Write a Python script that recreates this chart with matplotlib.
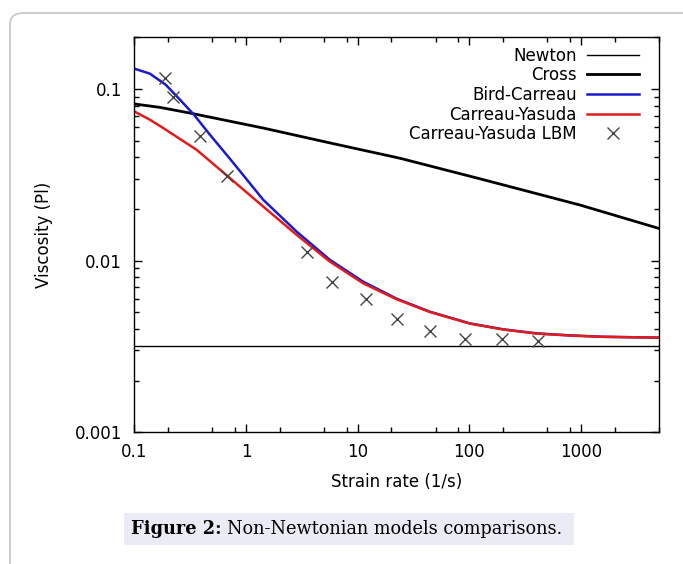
import matplotlib
matplotlib.use("Agg")
import matplotlib.pyplot as plt
from matplotlib.patches import FancyBboxPatch, Rectangle
from matplotlib.ticker import LogLocator, FixedLocator, FixedFormatter, NullFormatter

# values
newton_level = 0.0032

cross_rate = [0.1, 0.17, 0.315, 1.43, 5.65, 23.9, 124, 977, 5000]
cross_visc = [0.0818, 0.0781, 0.0724, 0.0592, 0.0485, 0.0395, 0.0300, 0.0211, 0.0154]

bird_rate = [0.1, 0.138, 0.191, 0.2565, 0.3423, 0.476, 0.719, 1.429, 2.843, 5.65, 11.22,
             22.4, 44.4, 101, 201, 400, 796, 1580, 5000]
bird_visc = [0.1314, 0.1228, 0.1059, 0.0866, 0.0708, 0.0541, 0.0392, 0.0226, 0.01476, 0.0101,
             0.00754, 0.0060, 0.00504, 0.00431, 0.00398, 0.00377, 0.00367, 0.0036, 0.00356]

yasuda_rate = [0.1, 0.138, 0.1818, 0.362, 0.680, 1.429, 2.843, 5.65, 11.22, 22.4,
               44.4, 101, 201, 400, 796, 1580, 5000]
yasuda_visc = [0.074, 0.0662, 0.0592, 0.0442, 0.0312, 0.02065, 0.01413, 0.00987, 0.00738,
               0.00595, 0.00502, 0.0043, 0.00397, 0.00376, 0.00366, 0.0036, 0.00356]

lbm_rate = [0.19, 0.22, 0.39, 0.68, 3.5, 5.9, 11.8, 22.3, 44.4, 91, 197, 409]
lbm_visc = [0.1159, 0.0893, 0.0529, 0.0312, 0.01119, 0.00754, 0.00594, 0.00455, 0.00391,
            0.00348, 0.00348, 0.00341]

x_ticks = [0.1, 1, 10, 100, 1000]
x_labels = ["0.1", "1", "10", "100", "1000"]
y_ticks = [0.001, 0.01, 0.1]
y_labels = ["0.001", "0.01", "0.1"]

plt.rcParams['font.family'] = ['DejaVu Sans']
fig = plt.figure(figsize=(6.83, 5.64), dpi=100)

# page frame and caption box
frame = FancyBboxPatch((10 / 683, -0.2), 1.2, 1.2 - 13 / 564,
                       boxstyle="round,pad=0,rounding_size=0.02",
                       transform=fig.transFigure, facecolor="none",
                       edgecolor="#c8c8c8", linewidth=1.3)
fig.patches.append(frame)
fig.patches.append(Rectangle((124 / 683, 1 - 545 / 564), (573.5 - 124) / 683, 32 / 564,
                             transform=fig.transFigure, facecolor="#ebebf5",
                             edgecolor="none"))

ax = fig.add_axes([134.3 / 683, 1 - 432.3 / 564, (659 - 134.3) / 683, (432.3 - 37.3) / 564])
ax.set_xscale("log")
ax.set_yscale("log")

ax.axhline(newton_level, color="black", lw=1.0, label="Newton")
ax.plot(cross_rate, cross_visc, color="black", lw=2.0, label="Cross")
ax.plot(bird_rate, bird_visc, color="#1a1acc", lw=1.8, label="Bird-Carreau")
ax.plot(yasuda_rate, yasuda_visc, color="#e01c1c", lw=1.8, label="Carreau-Yasuda")
ax.plot(lbm_rate, lbm_visc, ls="none", marker="x", ms=8, mew=1.0, color="#444444",
        label="Carreau-Yasuda LBM")

ax.set_xlim(0.1, 5000)
ax.set_ylim(0.001, 0.2)

ax.xaxis.set_major_locator(FixedLocator(x_ticks))
ax.xaxis.set_major_formatter(FixedFormatter(x_labels))
ax.xaxis.set_minor_locator(LogLocator(base=10, subs=[2, 5, 8], numticks=20))
ax.xaxis.set_minor_formatter(NullFormatter())
ax.yaxis.set_major_locator(FixedLocator(y_ticks))
ax.yaxis.set_major_formatter(FixedFormatter(y_labels))
ax.yaxis.set_minor_locator(LogLocator(base=10, subs=range(2, 10), numticks=20))
ax.yaxis.set_minor_formatter(NullFormatter())

ax.tick_params(which="both", direction="in", top=True, right=True, width=1.0)
ax.tick_params(which="major", length=6, labelsize=12)
ax.tick_params(axis="x", which="major", pad=8)
ax.tick_params(axis="y", which="major", pad=9)
ax.tick_params(which="minor", length=3.4)
for s in ax.spines.values():
    s.set_linewidth(1.0)

ax.set_xlabel("Strain rate (1/s)", fontsize=12, labelpad=8)
ax.set_ylabel("Viscosity (Pl)", fontsize=12)
ax.yaxis.set_label_coords(-0.155, 0.5)

ax.legend(loc="upper right", markerfirst=False, frameon=False, fontsize=12,
          handlelength=3.15, handletextpad=0.6, labelspacing=0.1,
          borderaxespad=0.3, bbox_to_anchor=(0.985, 1.006))

# caption: bold prefix followed by normal text
cap_y = 1 - 529 / 564
t1 = fig.text(131 / 683, cap_y, "Figure 2:", fontsize=12.8, fontweight="bold",
              family="DejaVu Serif", va="center")
fig.canvas.draw()
bb = t1.get_window_extent()
fig.text(bb.x1 / fig.bbox.width + 5 / 683, cap_y, "Non-Newtonian models comparisons.",
         fontsize=12.8, family="DejaVu Serif", va="center")

fig.savefig("out.png", dpi=100)
